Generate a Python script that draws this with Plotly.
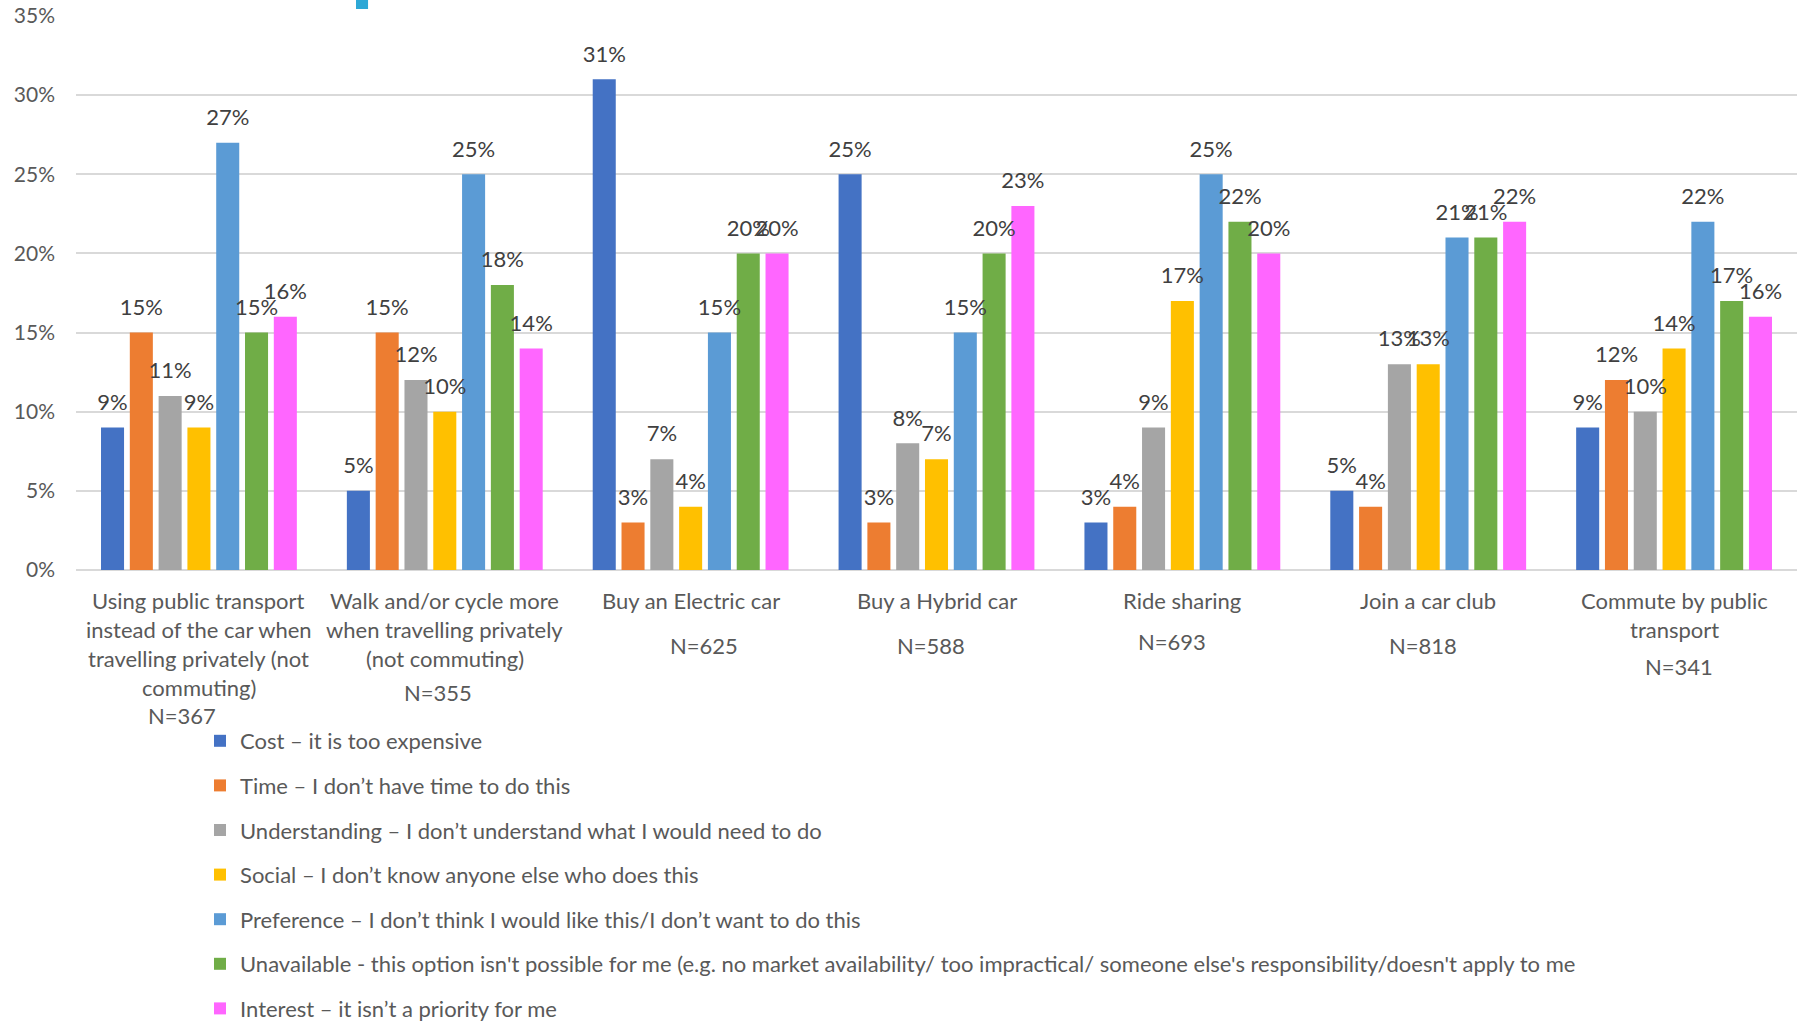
import plotly.graph_objects as go

categories = [
    "Using public transport instead of the car when travelling privately (not commuting)",
    "Walk and/or cycle more when travelling privately (not commuting)",
    "Buy an Electric car",
    "Buy a Hybrid car",
    "Ride sharing",
    "Join a car club",
    "Commute by public transport",
]
category_lines = [
    ["Using public transport", "instead of the car when", "travelling privately (not", "commuting)"],
    ["Walk and/or cycle more", "when travelling privately", "(not commuting)"],
    ["Buy an Electric car"],
    ["Buy a Hybrid car"],
    ["Ride sharing"],
    ["Join a car club"],
    ["Commute by public", "transport"],
]
n_labels = ["N=367", "N=355", "N=625", "N=588", "N=693", "N=818", "N=341"]

series_names = [
    "Cost \u2013 it is too expensive",
    "Time \u2013 I don\u2019t have time to do this",
    "Understanding \u2013 I don\u2019t understand what I would need to do",
    "Social \u2013 I don\u2019t know anyone else who does this",
    "Preference \u2013 I don\u2019t think I would like this/I don\u2019t want to do this",
    "Unavailable - this option isn't possible for me (e.g. no market availability/ too impractical/ someone else's responsibility/doesn't apply to me",
    "Interest \u2013 it isn\u2019t a priority for me",
]
cost = [9, 5, 31, 25, 3, 5, 9]
time_ = [15, 15, 3, 3, 4, 4, 12]
understanding = [11, 12, 7, 8, 9, 13, 10]
social = [9, 10, 4, 7, 17, 13, 14]
preference = [27, 25, 15, 15, 25, 21, 22]
unavailable = [15, 18, 20, 20, 22, 21, 17]
interest = [16, 14, 20, 23, 20, 22, 16]
series_values = [cost, time_, understanding, social, preference, unavailable, interest]
colors = ["#4472C4", "#ED7D31", "#A5A5A5", "#FFC000", "#5B9BD5", "#70AD47", "#FF66FF"]

FONT = "Lato"
TXT = "#595959"
FS = 22

fig = go.Figure()
for i, (name, vals) in enumerate(zip(series_names, series_values)):
    fig.add_trace(go.Bar(
        x=categories, y=vals, name=name, marker=dict(color=colors[i], line=dict(width=0)),
        offsetgroup=str(i), legendgroup=str(i), hoverinfo="skip",
    ))
for i, vals in enumerate(series_values):
    fig.add_trace(go.Scatter(
        x=categories, y=vals, mode="markers+text", text=[f"{v}%" for v in vals],
        textposition="top center", textfont=dict(family=FONT, size=FS, color="#404040"),
        marker=dict(size=18, color="rgba(0,0,0,0)"), offsetgroup=str(i),
        showlegend=False, cliponaxis=False, hoverinfo="skip",
    ))

annotations = []
line_shift0 = 30
line_step = 29
n_shift = [145, 122, 75, 75, 71, 75, 96]
n_xshift = [-17, -7, 13, -6, -10, -5, 5]
for j, cat in enumerate(categories):
    for k, line in enumerate(category_lines[j]):
        annotations.append(dict(
            x=cat, xref="x", y=0, yref="paper", yanchor="middle", xanchor="center",
            yshift=-(line_shift0 + line_step * k), text=line, showarrow=False,
            font=dict(family=FONT, size=FS, color=TXT),
        ))
    annotations.append(dict(
        x=cat, xref="x", y=0, yref="paper", yanchor="middle", xanchor="center",
        yshift=-n_shift[j], xshift=n_xshift[j], text=n_labels[j], showarrow=False,
        font=dict(family=FONT, size=FS, color=TXT),
    ))

fig.update_layout(
    width=1802, height=1024,
    margin=dict(l=76, r=5, t=16, b=454, autoexpand=False),
    paper_bgcolor="white", plot_bgcolor="white",
    barmode="group", bargap=0.18, bargroupgap=0.2,
    scattermode="group", scattergap=0.18,
    font=dict(family=FONT, color=TXT, size=FS),
    showlegend=True,
    legend=dict(
        orientation="v", xref="container", yref="container",
        x=0.111, y=1 - 720 / 1024, xanchor="left", yanchor="top",
        font=dict(family=FONT, size=FS, color=TXT), tracegroupgap=13,
        bgcolor="rgba(0,0,0,0)",
    ),
    annotations=annotations,
    shapes=[dict(type="rect", xref="paper", yref="paper", x0=0.1627, x1=0.1697,
                 y0=1.0126, y1=1.03, fillcolor="#2EA8D6", line=dict(width=0))],
    xaxis=dict(showticklabels=False, showgrid=False, showline=False, zeroline=False),
    yaxis=dict(range=[0, 35], dtick=5, ticksuffix="%", showgrid=True, gridcolor="#D9D9D9",
               gridwidth=1.5, zeroline=True, zerolinecolor="#D9D9D9", zerolinewidth=1.5,
               tickfont=dict(family=FONT, size=21, color=TXT), ticklabelstandoff=20,
               showline=False),
)

fig.write_html("out.html")
